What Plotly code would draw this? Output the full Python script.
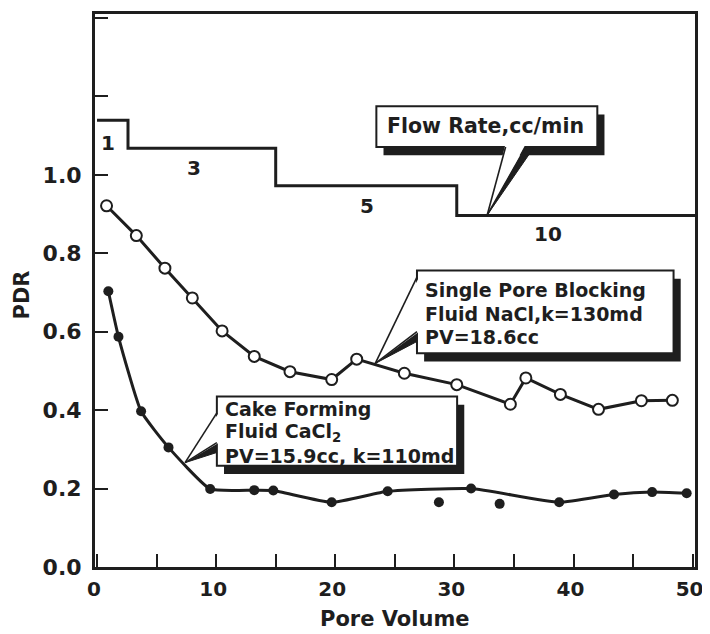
import plotly.graph_objects as go

# ---------------- data ----------------
single_x = [0.8, 3.3, 5.7, 8.0, 10.5, 13.2, 16.2, 19.7, 21.8, 25.8, 30.2, 34.7, 36.0, 38.9, 42.1, 45.7, 48.3]
single_y = [0.921, 0.845, 0.762, 0.686, 0.602, 0.537, 0.498, 0.478, 0.530, 0.494, 0.465, 0.415, 0.482, 0.440, 0.402, 0.424, 0.425]

cake_x = [0.95, 1.8, 3.7, 6.0, 9.5, 13.2, 14.8, 19.7, 24.4, 31.4, 38.8, 43.4, 46.6, 49.5]
cake_y = [0.703, 0.587, 0.397, 0.305, 0.199, 0.196, 0.195, 0.165, 0.193, 0.200, 0.165, 0.185, 0.191, 0.188]
cake_extra_x = [28.7, 33.8]
cake_extra_y = [0.165, 0.161]

flow_x = [0.0, 2.6, 15.0, 30.2, 50.3]
flow_y = [1.139, 1.068, 0.972, 0.896, 0.896]
flow_labels = ["1", "3", "5", "10"]
flow_label_x = [0.95, 8.1, 22.7, 37.9]
flow_label_y = [1.08, 1.018, 0.92, 0.848]

x_tickvals = [0, 10, 20, 30, 40, 50]
x_ticktext = ["0", "10", "20", "30", "40", "50"]
y_tickvals = [0.0, 0.2, 0.4, 0.6, 0.8, 1.0]
y_ticktext = ["0.0", "0.2", "0.4", "0.6", "0.8", "1.0"]

INK = "#1e1e1e"
FONT = "DejaVu Sans"

# the page body has an 8px margin: the figure is offset so the plot lands
# where it is in the 710x634 reference
PAGE_PAD = 8
PLOT_L, PLOT_T, PLOT_W, PLOT_H = 95, 11, 600, 556   # in page pixels
FIG_W, FIG_H = 710 - PAGE_PAD, 634 - PAGE_PAD

fig = go.Figure()

fig.add_trace(go.Scatter(x=flow_x, y=flow_y, mode="lines", line=dict(color=INK, width=3, shape="hv"),
                         cliponaxis=True, hoverinfo="skip", showlegend=False))
fig.add_trace(go.Scatter(x=single_x, y=single_y, mode="lines+markers",
                         line=dict(color=INK, width=3),
                         marker=dict(symbol="circle", size=11, color="white", line=dict(color=INK, width=2)),
                         showlegend=False))
fig.add_trace(go.Scatter(x=cake_x, y=cake_y, mode="lines+markers",
                         line=dict(color=INK, width=3, shape="spline", smoothing=0.45),
                         marker=dict(symbol="circle", size=10, color=INK),
                         showlegend=False))
fig.add_trace(go.Scatter(x=cake_extra_x, y=cake_extra_y, mode="markers",
                         marker=dict(symbol="circle", size=10, color=INK),
                         showlegend=False))

shapes = []
annotations = []

SDX, SDY = 0.6, 0.021  # shadow offset in data units


def tri(p1, p2, p3):
    return "M {},{} L {},{} L {},{} Z".format(p1[0], p1[1], p2[0], p2[1], p3[0], p3[1])


def callout(box, tip, b1, b2, wedge, cover):
    x0, x1, y0, y1 = box
    shapes.append(dict(type="rect", xref="x", yref="y", x0=x0 + SDX, x1=x1 + SDX, y0=y0 - SDY, y1=y1 - SDY,
                       fillcolor=INK, line=dict(width=0), layer="above"))
    shapes.append(dict(type="path", xref="x", yref="y", path=tri(tip, b2, wedge),
                       fillcolor=INK, line=dict(color=INK, width=1), layer="above"))
    shapes.append(dict(type="rect", xref="x", yref="y", x0=x0, x1=x1, y0=y0, y1=y1,
                       fillcolor="white", line=dict(color=INK, width=2), layer="above"))
    c1 = (b1[0] + cover[0], b1[1] + cover[1])
    c2 = (b2[0] + cover[0], b2[1] + cover[1])
    shapes.append(dict(type="path", xref="x", yref="y", path=tri(tip, c1, c2),
                       fillcolor="white", line=dict(width=0), layer="above"))
    for b in (b1, b2):
        shapes.append(dict(type="line", xref="x", yref="y", x0=tip[0], y0=tip[1], x1=b[0], y1=b[1],
                           line=dict(color=INK, width=1.6), layer="above"))


callout(box=(23.45, 42.0, 1.071, 1.175), tip=(32.75, 0.897), b1=(34.3, 1.071), b2=(36.0, 1.071),
        wedge=(36.7, 1.071), cover=(0.0, 0.008))
callout(box=(26.86, 48.4, 0.545, 0.756), tip=(23.36, 0.519), b1=(26.86, 0.739), b2=(26.86, 0.600),
        wedge=(26.86, 0.575), cover=(0.17, 0.0))
callout(box=(10.06, 30.23, 0.258, 0.435), tip=(7.39, 0.266), b1=(10.06, 0.393), b2=(10.06, 0.317),
        wedge=(10.06, 0.292), cover=(0.17, 0.0))

txtfont = dict(family=FONT, size=19, color=INK, weight="bold")

annotations.append(dict(x=24.15, y=1.124, xref="x", yref="y", text="Flow Rate,cc/min", showarrow=False,
                        xanchor="left", yanchor="middle",
                        font=dict(family=FONT, size=20.5, color=INK, weight="bold")))
for t, yy in zip(["Single Pore Blocking", "Fluid NaCl,k=130md", "PV=18.6cc"], [0.706, 0.646, 0.587]):
    annotations.append(dict(x=27.35, y=yy, xref="x", yref="y", text=t, showarrow=False,
                            xanchor="left", yanchor="middle", font=txtfont))
for t, yy in zip(["Cake Forming", "Fluid CaCl<sub>2</sub>", "PV=15.9cc, k=110md"], [0.4025, 0.342, 0.284]):
    annotations.append(dict(x=10.55, y=yy, xref="x", yref="y", text=t, showarrow=False,
                            xanchor="left", yanchor="middle", font=txtfont))

for t, xx, yy in zip(flow_labels, flow_label_x, flow_label_y):
    annotations.append(dict(x=xx, y=yy, xref="x", yref="y", text=t, showarrow=False,
                            xanchor="center", yanchor="middle",
                            font=dict(family=FONT, size=20, color=INK, weight="bold")))

# axis titles (positions in page pixels converted to paper units)
annotations.append(dict(x=(22 - PLOT_L) / PLOT_W, y=(PLOT_T + PLOT_H - 294) / PLOT_H, xref="paper", yref="paper",
                        text="PDR", showarrow=False, textangle=-90, xanchor="center", yanchor="middle",
                        font=dict(family=FONT, size=21, color=INK, weight="bold")))
annotations.append(dict(x=0.5, y=(PLOT_T + PLOT_H - 619) / PLOT_H, xref="paper", yref="paper", text="Pore Volume",
                        showarrow=False, xanchor="center", yanchor="middle",
                        font=dict(family=FONT, size=21, color=INK, weight="bold")))

fig.update_layout(
    width=FIG_W, height=FIG_H,
    margin=dict(l=PLOT_L - PAGE_PAD, r=FIG_W - (PLOT_L - PAGE_PAD) - PLOT_W,
                t=PLOT_T - PAGE_PAD, b=FIG_H - (PLOT_T - PAGE_PAD) - PLOT_H),
    paper_bgcolor="white", plot_bgcolor="white",
    shapes=shapes, annotations=annotations,
    showlegend=False,
    xaxis=dict(range=[-0.17, 50.2], tickvals=x_tickvals, ticktext=x_ticktext,
               ticks="inside", ticklen=13, tickwidth=2, tickcolor=INK,
               minor=dict(dtick=5, tick0=0, ticks="inside", ticklen=13, tickwidth=2, tickcolor=INK, showgrid=False),
               showline=True, linewidth=3, linecolor=INK, mirror=True,
               showgrid=False, zeroline=False, ticklabelstandoff=2, ticklabelshift=-3,
               ticklabeloverflow="allow",
               tickfont=dict(family=FONT, size=20, color=INK, weight="bold")),
    yaxis=dict(range=[0, 1.41], tickvals=y_tickvals, ticktext=y_ticktext,
               ticks="inside", ticklen=13, tickwidth=2, tickcolor=INK,
               minor=dict(dtick=0.2, tick0=0, ticks="inside", ticklen=13, tickwidth=2, tickcolor=INK, showgrid=False),
               showline=True, linewidth=3, linecolor=INK, mirror=True,
               showgrid=False, zeroline=False, ticklabelstandoff=6,
               tickfont=dict(family=FONT, size=22, color=INK, weight="bold")),
)

fig.write_html("out.html")
